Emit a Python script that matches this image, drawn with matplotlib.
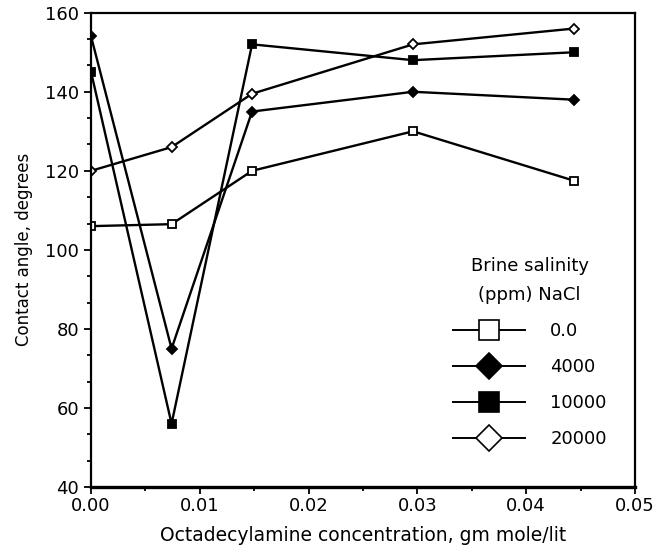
import matplotlib
matplotlib.use("Agg")
import matplotlib.pyplot as plt
from matplotlib.lines import Line2D
from matplotlib.ticker import MultipleLocator, AutoMinorLocator, FormatStrFormatter

plt.rcParams['font.family'] = ['DejaVu Sans']

concentration = [0.0, 0.0074, 0.0148, 0.0296, 0.0444]
series_labels = ["0.0", "4000", "10000", "20000"]
angle_0 = [106, 106.5, 120, 130, 117.5]
angle_4000 = [154, 75, 135, 140, 138]
angle_10000 = [145, 56, 152, 148, 150]
angle_20000 = [120, 126, 139.5, 152, 156]

styles = [
    dict(marker='s', mfc='white', mec='black'),
    dict(marker='D', mfc='black', mec='black'),
    dict(marker='s', mfc='black', mec='black'),
    dict(marker='D', mfc='white', mec='black'),
]
data = [angle_0, angle_4000, angle_10000, angle_20000]

fig = plt.figure(figsize=(6.6, 5.54), dpi=100)
ax = fig.add_axes([0.138, 0.121, 0.824, 0.856])

for vals, st in zip(data, styles):
    ax.plot(concentration, vals, color='black', lw=1.7,
            markersize=5.5 if st['marker'] == 's' else 5, mew=1.3, **st)

ax.set_xlim(0, 0.05)
ax.set_ylim(40, 160)
ax.xaxis.set_major_locator(MultipleLocator(0.01))
ax.xaxis.set_minor_locator(AutoMinorLocator(2))
ax.xaxis.set_major_formatter(FormatStrFormatter('%.2f'))
ax.yaxis.set_major_locator(MultipleLocator(20))
ax.yaxis.set_minor_locator(AutoMinorLocator(3))
ax.tick_params(which='both', direction='out', labelsize=13, width=1.3)
ax.tick_params(which='major', length=5)
ax.tick_params(which='minor', length=3)
ax.tick_params(axis='x', pad=2)
for s in ax.spines.values():
    s.set_linewidth(1.6)
ax.spines['bottom'].set_linewidth(2.4)

ax.set_xlabel("Octadecylamine concentration, gm mole/lit", fontsize=13.5, labelpad=8)
ax.set_ylabel("Contact angle, degrees", fontsize=12, labelpad=9)

handles = [Line2D([], [], color='black', lw=1.4, markersize=14 if st['marker'] == 's' else 13,
                  mew=1.2, **st) for st in styles]
leg = ax.legend(handles, series_labels, title="Brine salinity\n(ppm) NaCl",
                frameon=False, fontsize=13, title_fontsize=13,
                loc='upper left', bbox_to_anchor=(0.635, 0.52),
                handlelength=4.0, handletextpad=1.4, labelspacing=1.0)
leg._legend_box.align = "center"
leg.get_title().set_multialignment('center')
leg.get_title().set_linespacing(1.8)

fig.savefig("out.png", dpi=100)
